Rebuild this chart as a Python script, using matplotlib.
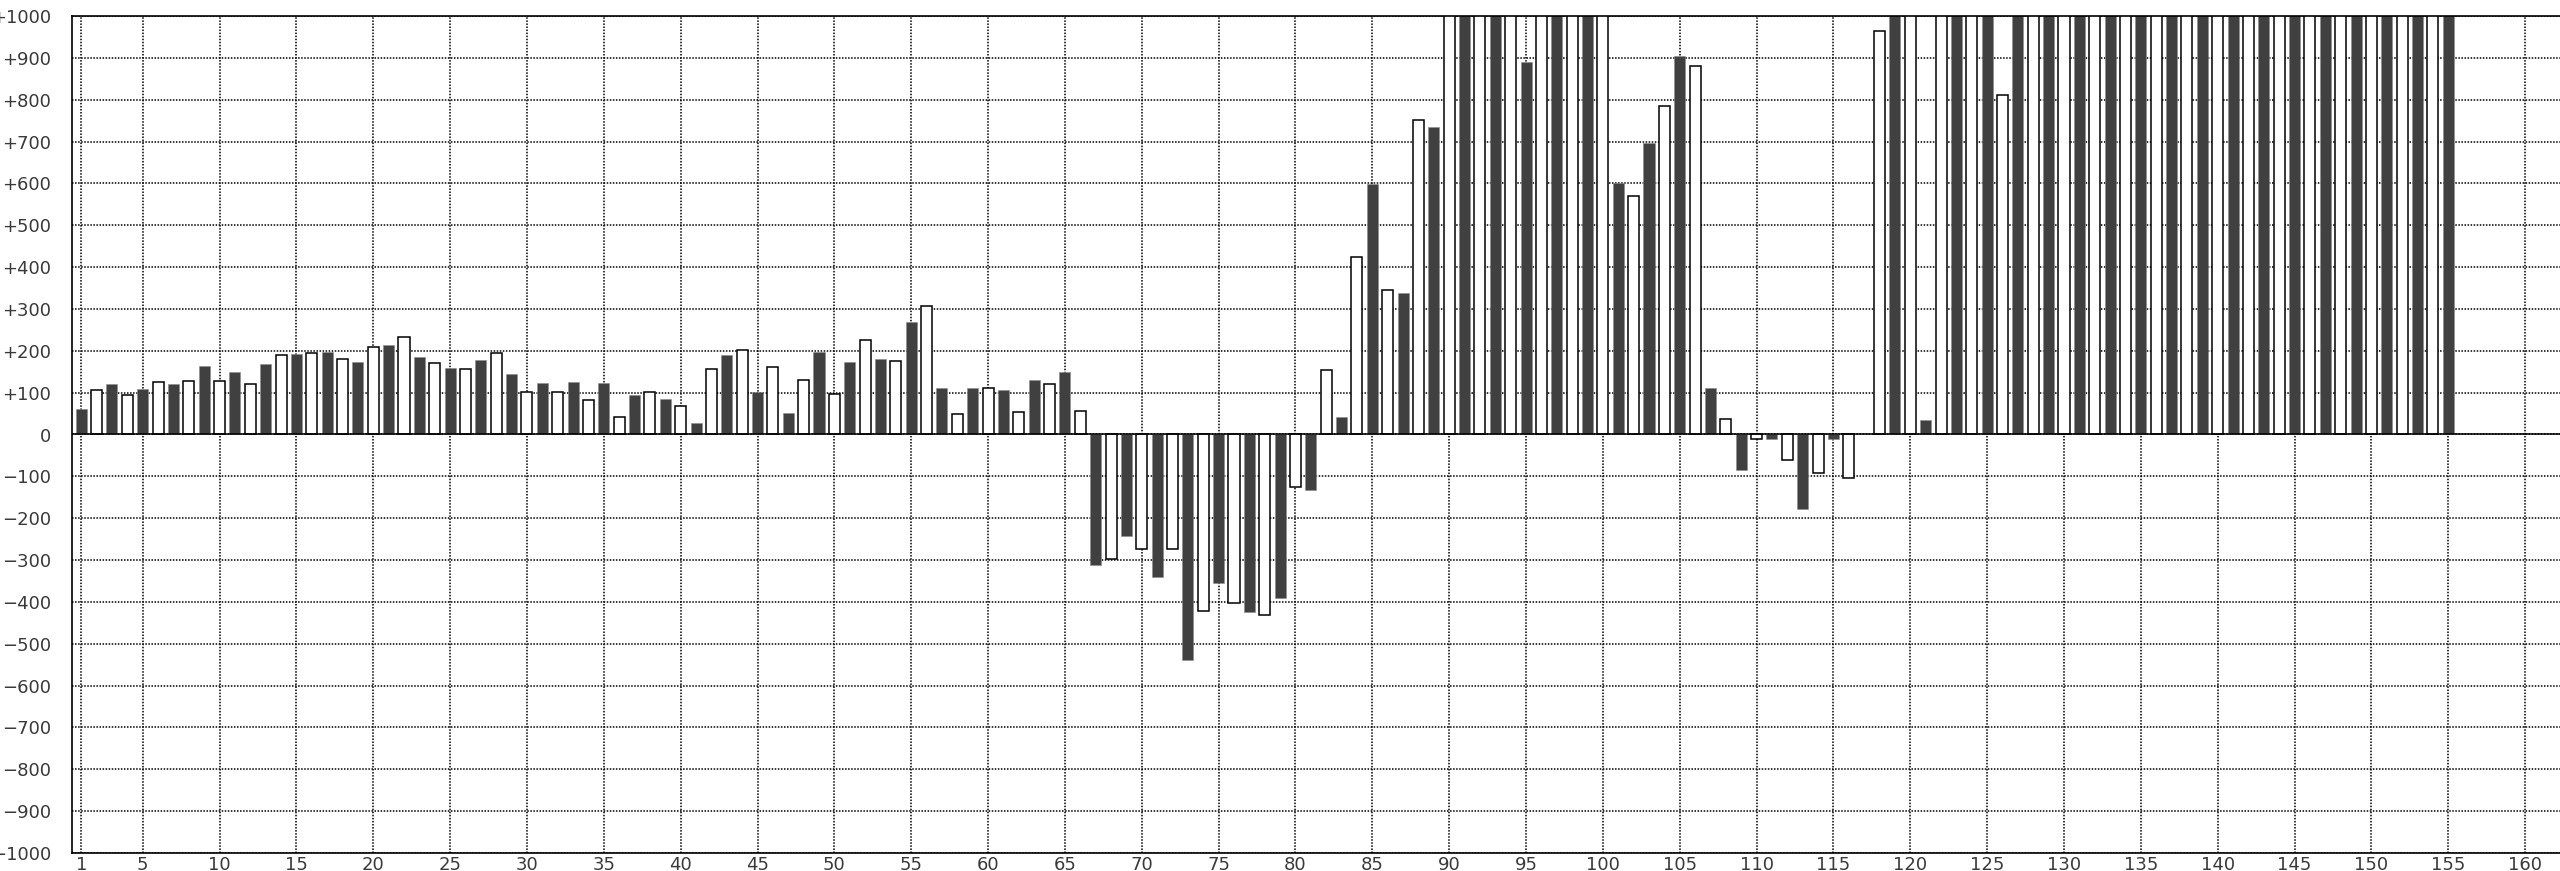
import matplotlib
matplotlib.use('agg')
import matplotlib.pyplot as plt

# one value per day, odd days drawn dark, even days drawn white
# values above +1000 are off the chart in the reference, so only a rough guess
days = list(range(1, 156))
values = [
    62, 107, 121, 94, 109, 125, 121, 129, 163, 129,
    150, 120, 168, 190, 192, 195, 197, 180, 173, 208,
    214, 232, 186, 171, 158, 157, 177, 194, 144, 101,
    122, 101, 126, 83, 122, 41, 94, 101, 84, 69,
    27, 157, 190, 202, 102, 162, 51, 130, 196, 97,
    173, 227, 181, 176, 270, 306, 112, 50, 112, 111,
    107, 54, 131, 120, 149, 55, -312, -298, -243, -274,
    -340, -274, -538, -422, -354, -403, -423, -431, -391, -126,
    -133, 153, 43, 425, 598, 346, 338, 752, 734, 1200,
    1200, 1200, 1200, 1200, 890, 1200, 1200, 1200, 1200, 1200,
    600, 571, 697, 784, 905, 881, 112, 37, -84, -10,
    -11, -61, -177, -93, -11, -103, 0, 964, 1200, 1200,
    34, 1200, 1200, 1200, 1200, 812, 1200, 1200, 1200, 1200,
    1200, 1200, 1200, 1200, 1200, 1200, 1200, 1200, 1200, 1200,
    1200, 1200, 1200, 1200, 1200, 1200, 1200, 1200, 1200, 1200,
    1200, 1200, 1200, 1200, 1200,
]
x_ticks = [1] + list(range(5, 161, 5))
y_ticks = list(range(-1000, 1001, 100))


def y_label(v):
    if v > 0:
        return '+' + str(v)
    if v < 0:
        return '\u2212' + str(-v)
    return '0'


fig = plt.figure(figsize=(25.6, 8.71), dpi=100)
ax = fig.add_axes([72 / 2560, 18 / 871, 2490 / 2560, 837 / 871])

odd_x = [d for d in days if d % 2 == 1]
odd_v = [v for d, v in zip(days, values) if d % 2 == 1]
even_x = [d for d in days if d % 2 == 0]
even_v = [v for d, v in zip(days, values) if d % 2 == 0]

ax.bar(odd_x, odd_v, width=0.72, color='#404040', edgecolor='#8a8a8a',
       linewidth=0.4, zorder=2)
ax.bar(even_x, even_v, width=0.72, color='white', edgecolor='black',
       linewidth=1.1, zorder=2)
ax.axhline(0, color='black', linewidth=1.1, zorder=3)

ax.set_xlim(0.4, 162.4)
ax.set_ylim(-1000, 1000)
ax.set_xticks(x_ticks)
ax.set_xticklabels([str(t) for t in x_ticks])
ax.set_yticks(y_ticks)
ax.set_yticklabels([y_label(t) for t in y_ticks])

ax.grid(True, color='black', linestyle=(0, (1, 1)), linewidth=1.1, zorder=0)
ax.set_axisbelow(True)
ax.tick_params(axis='y', length=0, pad=15, labelsize=13, labelcolor='#3a3a3a')
ax.tick_params(axis='x', length=0, pad=2, labelsize=13, labelcolor='#3a3a3a')

for side in ['left', 'top', 'bottom']:
    ax.spines[side].set_linewidth(1.2)
ax.spines['right'].set_visible(False)

plt.savefig('out.png', dpi=100)
plt.close()
